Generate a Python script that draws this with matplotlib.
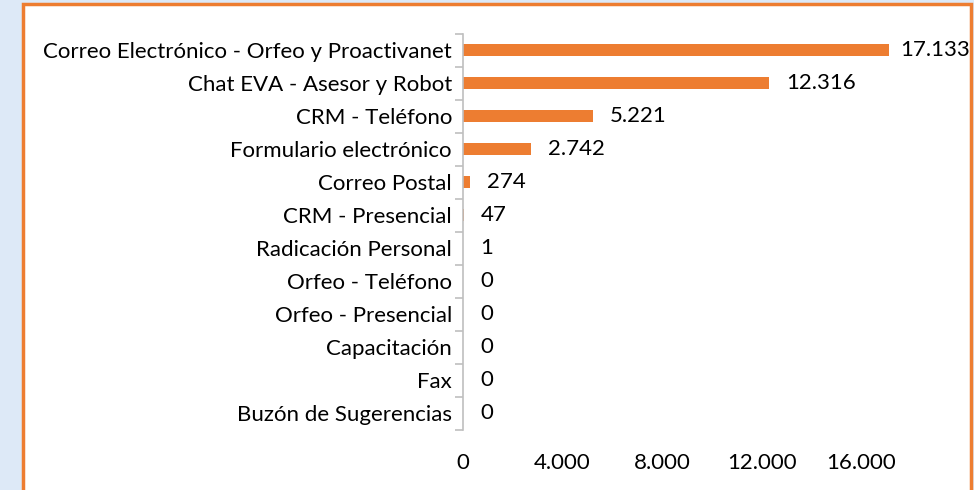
import matplotlib
matplotlib.use("Agg")
import matplotlib.pyplot as plt
from matplotlib.patches import Rectangle
from matplotlib.ticker import FuncFormatter, FixedLocator
import numpy as np

categories = [
    "Correo Electrónico - Orfeo y Proactivanet",
    "Chat EVA - Asesor y Robot",
    "CRM - Teléfono",
    "Formulario electrónico",
    "Correo Postal",
    "CRM - Presencial",
    "Radicación Personal",
    "Orfeo - Teléfono",
    "Orfeo - Presencial",
    "Capacitación",
    "Fax",
    "Buzón de Sugerencias",
]
values = [17133, 12316, 5221, 2742, 274, 47, 1, 0, 0, 0, 0, 0]
xticks = [0, 4000, 8000, 12000, 16000]

ORANGE = "#ED7D31"
BLUE_BG = "#dde9f7"
GRAY = "#bfbfbf"
FONT = ["Lato", "DejaVu Sans"]
FS = 16

W, H = 974, 490
fig = plt.figure(figsize=(W / 100, H / 100), dpi=100, facecolor=BLUE_BG)

# white chart panel with orange border
panel = Rectangle((22.5 / W, -0.05), (970.5 - 22.5) / W, (H - 4.5) / H + 0.05,
                  transform=fig.transFigure, facecolor="white",
                  edgecolor=ORANGE, linewidth=2.5, zorder=-10)
fig.add_artist(panel)

left = 463 / W
bottom = (H - 429.5) / H
top = (H - 33.5) / H
xmax = 18000
px_per_unit = 24.88 / 1000
width = xmax * px_per_unit / W
ax = fig.add_axes([left, bottom, width, top - bottom])
ax.set_zorder(5)
ax.set_facecolor("none")

n = len(categories)
y = np.arange(n)
ax.barh(y, values, height=0.34, color=ORANGE, zorder=2)
ax.set_ylim(n - 0.5, -0.5)
ax.set_xlim(0, xmax)

for s in ["top", "right", "bottom"]:
    ax.spines[s].set_visible(False)
ax.spines["left"].set_color(GRAY)
ax.spines["left"].set_linewidth(1.2)

ax.set_yticks(y)
ax.set_yticklabels(categories, fontsize=FS, family=FONT, color="#000000")
ax.tick_params(axis="y", which="major", length=0, pad=8)
ax.yaxis.set_minor_locator(FixedLocator(np.arange(-0.5, n, 1.0)))
ax.tick_params(axis="y", which="minor", length=6, color=GRAY, width=1.2)

ax.set_xticks(xticks)
ax.xaxis.set_major_formatter(FuncFormatter(lambda v, p: f"{int(v):,}".replace(",", ".")))
ax.tick_params(axis="x", length=0, pad=17, labelsize=FS)
for lab in ax.get_xticklabels():
    lab.set_family(FONT)

vmax = max(values)
for yi, v in zip(y, values):
    off = 11 if v == vmax else 17
    ax.annotate(f"{v:,}".replace(",", "."), xy=(v, yi), xytext=(off * 0.72, 0),
                textcoords="offset points", ha="left", va="center",
                fontsize=FS, family=FONT, color="#000000", annotation_clip=False)

fig.savefig("out.png", dpi=100, facecolor=BLUE_BG)
